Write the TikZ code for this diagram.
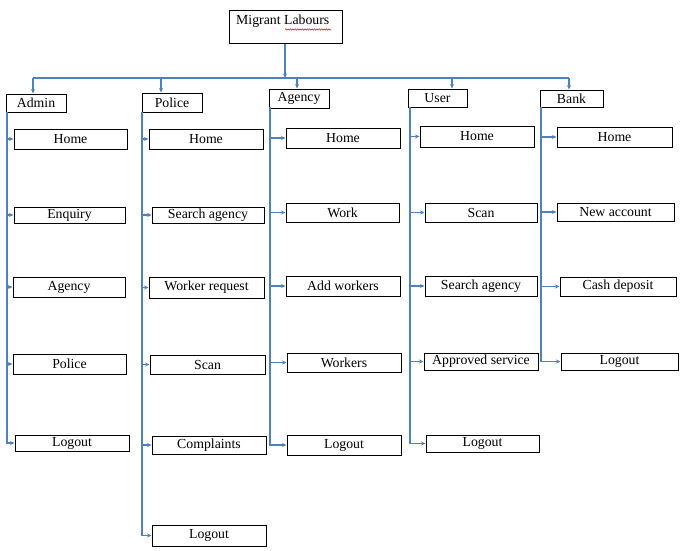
\documentclass[tikz,border=0pt]{standalone}
\usepackage{fontspec}
\setmainfont{Liberation Serif}
\usetikzlibrary{arrows.meta,decorations.pathmorphing}
\definecolor{lnblue}{RGB}{79,129,189}
\tikzset{
  box/.style={draw=black, line width=1pt, inner sep=0pt, fill=white,
    font=\fontsize{13.8}{16}\selectfont},
  lbl/.style={inner sep=0pt, font=\fontsize{13.8}{16}\selectfont},
  conn/.style={draw=lnblue, line width=1.1pt},
  arr/.style={conn, -{Stealth[length=4.5pt,width=4pt]}},
}
\newcommand\bx[6]{\node[box, minimum width=#4pt, minimum height=#5pt] (#1) at (#2,#3) {#6};}
\begin{document}
\begin{tikzpicture}[x=1pt,y=-1pt]
\useasboundingbox (0,0) rectangle (693,551);
% top
\node[box, minimum width=113pt, minimum height=33pt] (top) at (285.5,27.5) {};
\node[lbl, anchor=base west] (toptext) at (236,25) {Migrant Labours};
\draw[red, line width=0.5pt, decorate, decoration={snake, amplitude=0.7pt, segment length=2.4pt}] (285,29.5) -- (331,29.5);
% headers
\bx{admin}{36}{103}{60}{18}{Admin}
\bx{police}{172}{102.5}{60}{19}{Police}
\bx{agency}{299}{98.5}{60}{19}{Agency}
\bx{user}{437.5}{98}{59}{18}{User}
\bx{bank}{571.5}{98.5}{63}{17}{Bank}
% admin column
\bx{ahome}{70.5}{139}{113}{20}{Home}
\bx{aenq}{69.5}{215}{111}{16}{Enquiry}
\bx{aagency}{69}{287}{112}{20}{Agency}
\bx{apolice}{69.5}{364}{113}{20}{Police}
\bx{alogout}{72}{443}{114}{16}{Logout}
% police column
\bx{phome}{206}{139}{114}{20}{Home}
\bx{psearch}{208}{215}{112}{16}{Search agency}
\bx{pworker}{206.5}{287.5}{115}{21}{Worker request}
\bx{pscan}{207.5}{364.5}{115}{19}{Scan}
\bx{pcompl}{209}{445}{114}{18}{Complaints}
\bx{plogout}{209}{535.5}{114}{21}{Logout}
% agency column
\bx{ghome}{343}{138}{114}{20}{Home}
\bx{gwork}{342.5}{212.5}{113}{19}{Work}
\bx{gadd}{343}{286}{114}{20}{Add workers}
\bx{gworkers}{344}{362.5}{114}{19}{Workers}
\bx{glogout}{344}{445}{114}{20}{Logout}
% user column
\bx{uhome}{477}{136.5}{114}{21}{Home}
\bx{uscan}{481}{212.5}{112}{19}{Scan}
\bx{usearch}{481}{286}{112}{20}{Search agency}
\bx{uapproved}{481}{361.5}{114}{17}{Approved service}
\bx{ulogout}{482.5}{443.5}{113}{17}{Logout}
% bank column
\bx{bhome}{614.5}{137}{115}{20}{Home}
\bx{bnew}{615.5}{212}{117}{18}{New account}
\bx{bcash}{618}{286.5}{116}{19}{Cash deposit}
\bx{blogout}{619.5}{361.5}{117}{17}{Logout}
% bus
\coordinate (dA) at (33,78);
\coordinate (dP) at (161,78);
\coordinate (dG) at (297,78);
\coordinate (dU) at (452,78);
\coordinate (dB) at (569,78);
\coordinate (tt) at (285,44);
\draw[arr, line width=1.6pt] (tt) -- (tt |- dA);
\draw[conn, line width=1.8pt] (dA) -- (dB);
\draw[arr] (dA) -- (dA |- admin.north);
\draw[arr] (dP) -- (dP |- police.north);
\draw[arr] (dG) -- (dG |- agency.north);
\draw[arr] (dU) -- (dU |- user.north);
\draw[arr] (dB) -- (dB |- bank.north);
% trunks
\coordinate (tA) at (7,112);
\coordinate (tP) at (142,112);
\coordinate (tG) at (270,107);
\coordinate (tU) at (410,107);
\coordinate (tB) at (541,107);
\draw[arr] (tA) |- (alogout.west);
\foreach \n in {ahome,aenq,aagency,apolice} \draw[arr] (tA |- \n.west) -- (\n.west);
\draw[arr] (tP) |- (plogout.west);
\foreach \n in {phome,psearch,pworker,pscan,pcompl} \draw[arr] (tP |- \n.west) -- (\n.west);
\draw[arr] (tG) |- (glogout.west);
\foreach \n in {ghome,gwork,gadd,gworkers} \draw[arr] (tG |- \n.west) -- (\n.west);
\draw[arr] (tU) |- (ulogout.west);
\foreach \n in {uhome,uscan,usearch,uapproved} \draw[arr] (tU |- \n.west) -- (\n.west);
\draw[arr] (tB) |- (blogout.west);
\foreach \n in {bhome,bnew,bcash} \draw[arr] (tB |- \n.west) -- (\n.west);
\end{tikzpicture}
\end{document}
